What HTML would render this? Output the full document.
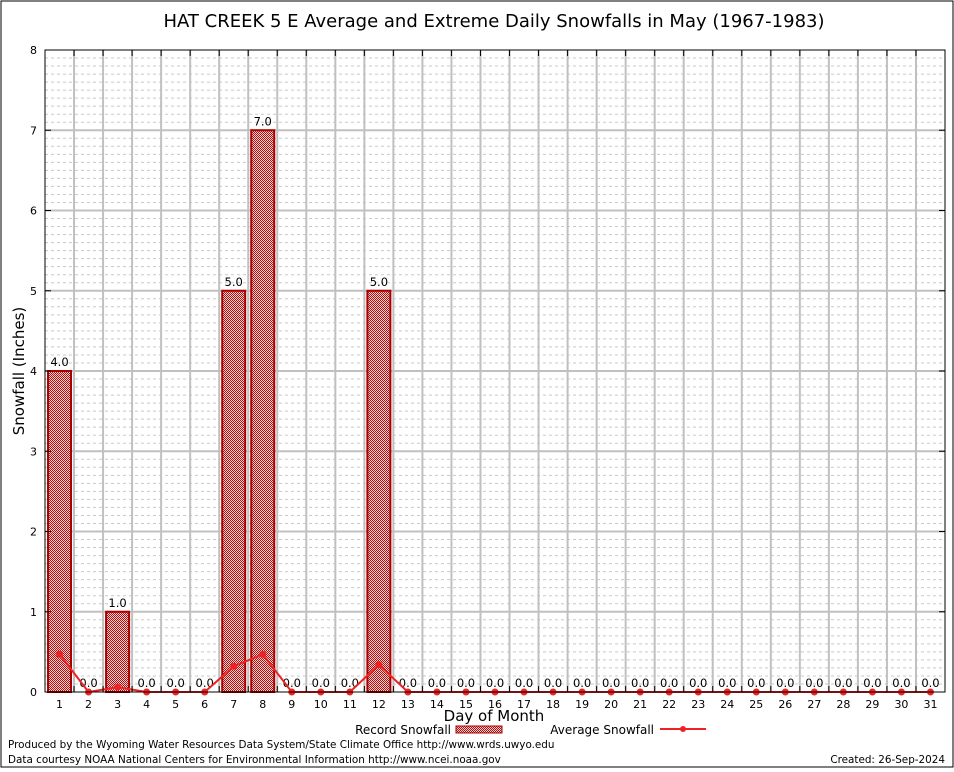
<!DOCTYPE html>
<html><head><meta charset="utf-8"><style>
body{margin:0;background:#fff;font-family:"DejaVu Sans","Liberation Sans",sans-serif}
svg text{font-family:"DejaVu Sans","Liberation Sans",sans-serif}
</style></head><body>
<svg id="c" width="954" height="768" xmlns="http://www.w3.org/2000/svg">
<defs><pattern id="hatch" width="2" height="2" patternUnits="userSpaceOnUse"><rect width="2" height="2" fill="#f4d0d0"/><rect width="1" height="1" fill="#b01010"/><rect x="1" y="1" width="1" height="1" fill="#b01010"/></pattern></defs>
<rect x="1" y="1" width="952" height="766" fill="#fff" stroke="#000"/>
<text x="494" y="27" font-size="18" text-anchor="middle" font-family="Liberation Sans">HAT CREEK 5 E Average and Extreme Daily Snowfalls in May (1967-1983)</text>
<g id="grid"></g><g id="bars"></g><g id="line"></g><g id="axes"></g>
<text x="24" y="371" font-size="15" text-anchor="middle" transform="rotate(-90 24 371)">Snowfall (Inches)</text>
<text x="494" y="721" font-size="15" text-anchor="middle">Day of Month</text>
<g><text x="451" y="734" font-size="12" text-anchor="end">Record Snowfall</text><rect x="456" y="726" width="46" height="7" fill="url(#hatch)" stroke="#a00"/></g>
<g><text x="654" y="734" font-size="12" text-anchor="end">Average Snowfall</text><line x1="660" y1="729" x2="706" y2="729" stroke="#e22" stroke-width="2"/><circle cx="683" cy="729" r="3" fill="#e22"/></g>
<text x="8" y="748" font-size="10.4">Produced by the Wyoming Water Resources Data System/State Climate Office http://www.wrds.uwyo.edu</text>
<text x="8" y="763" font-size="10.4">Data courtesy NOAA National Centers for Environmental Information http://www.ncei.noaa.gov</text>
<text x="945" y="763" font-size="10.4" text-anchor="end">Created:  26-Sep-2024</text>
</svg>
<script>
const days=[1,2,3,4,5,6,7,8,9,10,11,12,13,14,15,16,17,18,19,20,21,22,23,24,25,26,27,28,29,30,31];
const records=[4,0,1,0,0,0,5,7,0,0,0,5,0,0,0,0,0,0,0,0,0,0,0,0,0,0,0,0,0,0,0];
const averages=[0.47,0,0.06,0,0,0,0.32,0.47,0,0,0,0.34,0,0,0,0,0,0,0,0,0,0,0,0,0,0,0,0,0,0,0];
const yTicks=[0,1,2,3,4,5,6,7,8];
const L=45,R=945,T=50,B=692,yMax=8;
const bw=(R-L)/days.length;
const xs=d=>L+(d-0.5)*bw;
const ys=v=>B-(v/yMax)*(B-T);
const NS="http://www.w3.org/2000/svg";
function mk(p,t,a){const e=document.createElementNS(NS,t);for(const k in a)e.setAttribute(k,a[k]);document.getElementById(p).appendChild(e);return e;}
for(let i=1;i<yMax*10;i++){if(i%10===0)continue;
const e=mk('grid','line',{x1:L,x2:R,y1:ys(i/10),y2:ys(i/10),stroke:'#c8c8c8','stroke-dasharray':'3,3','stroke-width':1});
}
for(let k=1;k<days.length;k++){const x=L+k*bw;
const e=mk('grid','line',{x1:x,x2:x,y1:T,y2:B,stroke:'#c0c0c0','stroke-width':2});

mk('axes','line',{x1:x,x2:x,y1:T,y2:T+6,stroke:'#000'});mk('axes','line',{x1:x,x2:x,y1:B,y2:B-6,stroke:'#000'});}
yTicks.forEach(v=>{const y=ys(v);
if(v>0&&v<yMax){const e=mk('grid','line',{x1:L,x2:R,y1:y,y2:y,stroke:'#c0c0c0','stroke-width':2});
}
mk('axes','line',{x1:L,x2:L+6,y1:y,y2:y,stroke:'#000'});mk('axes','line',{x1:R,x2:R-6,y1:y,y2:y,stroke:'#000'});
const t=mk('axes','text',{x:L-8,y:y+4,'font-size':11,'text-anchor':'end','font-family':'Liberation Serif'});t.textContent=v;
});
const fr=mk('axes','rect',{x:L,y:T,width:R-L,height:B-T,fill:'none',stroke:'#000'});

days.forEach((d,i)=>{const x=xs(d),v=records[i];
if(v>0){const r=mk('bars','rect',{x:x-11.5,y:ys(v),width:23,height:B-ys(v),fill:'url(#hatch)',stroke:'#a00','stroke-width':2});
}
const t=mk('bars','text',{x:x,y:ys(v)-5,'font-size':11.5,'text-anchor':'middle'});t.textContent=v.toFixed(1);

const xl=mk('axes','text',{x:x,y:B+16,'font-size':11,'text-anchor':'middle','font-family':'Liberation Serif'});xl.textContent=d;
});
const pl=mk('line','polyline',{points:days.map((d,i)=>xs(d)+','+ys(averages[i])).join(' '),fill:'none',stroke:'#e22','stroke-width':2});

days.forEach((d,i)=>{const c=mk('line','circle',{cx:xs(d),cy:ys(averages[i]),r:3.5,fill:'#e22'});
});
</script>
</body></html>
